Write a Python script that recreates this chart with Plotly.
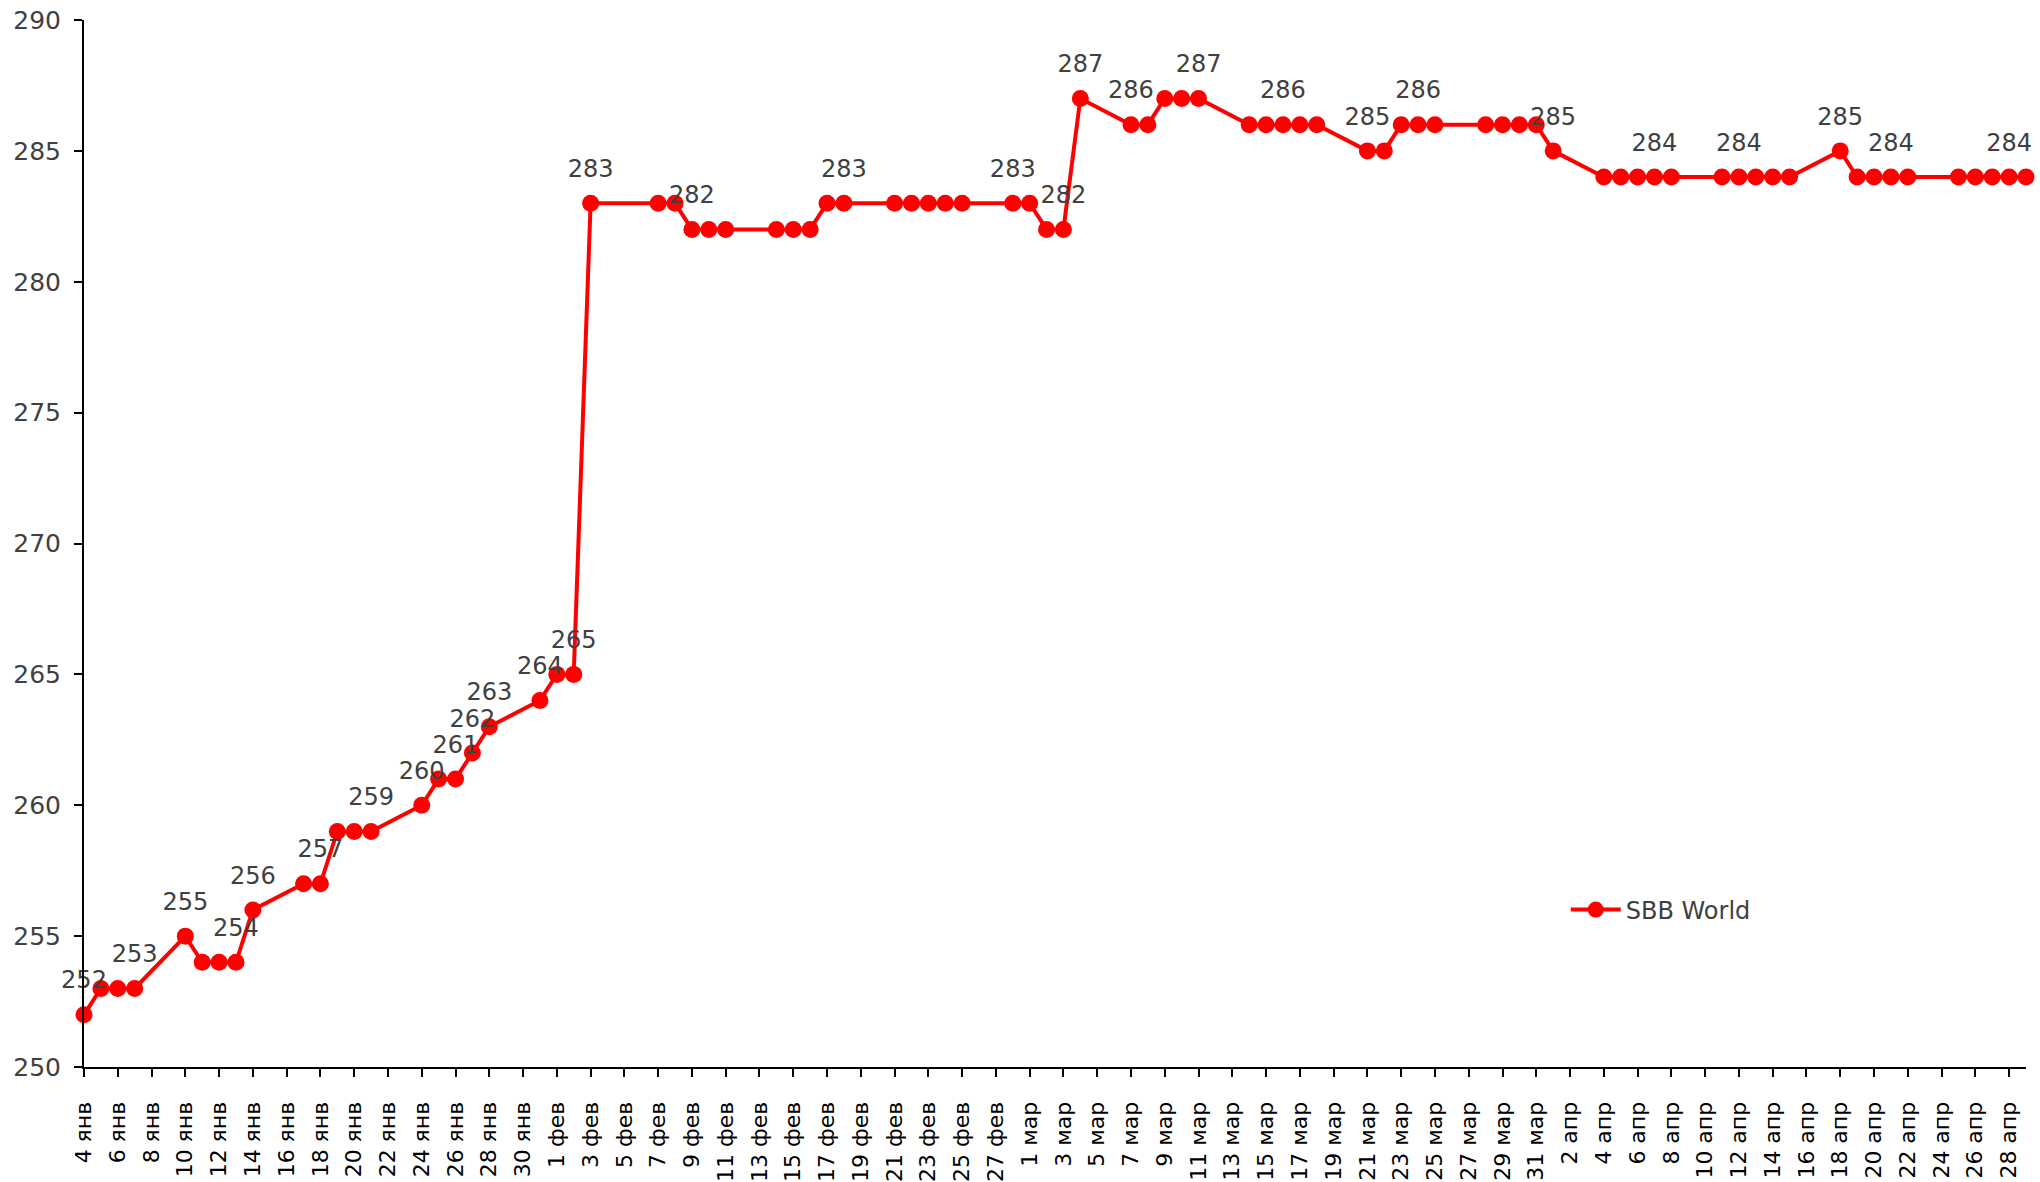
import plotly.graph_objects as go

# ---- data ----
dates = [
    "2022-01-04", "2022-01-05", "2022-01-06", "2022-01-07",
    "2022-01-10", "2022-01-11", "2022-01-12", "2022-01-13", "2022-01-14",
    "2022-01-17", "2022-01-18", "2022-01-19", "2022-01-20", "2022-01-21",
    "2022-01-24", "2022-01-25", "2022-01-26", "2022-01-27", "2022-01-28",
    "2022-01-31", "2022-02-01", "2022-02-02", "2022-02-03",
    "2022-02-07", "2022-02-08", "2022-02-09", "2022-02-10", "2022-02-11",
    "2022-02-14", "2022-02-15", "2022-02-16", "2022-02-17", "2022-02-18",
    "2022-02-21", "2022-02-22", "2022-02-23", "2022-02-24", "2022-02-25",
    "2022-02-28", "2022-03-01", "2022-03-02", "2022-03-03", "2022-03-04",
    "2022-03-07", "2022-03-08", "2022-03-09", "2022-03-10", "2022-03-11",
    "2022-03-14", "2022-03-15", "2022-03-16", "2022-03-17", "2022-03-18",
    "2022-03-21", "2022-03-22", "2022-03-23", "2022-03-24", "2022-03-25",
    "2022-03-28", "2022-03-29", "2022-03-30", "2022-03-31", "2022-04-01",
    "2022-04-04", "2022-04-05", "2022-04-06", "2022-04-07", "2022-04-08",
    "2022-04-11", "2022-04-12", "2022-04-13", "2022-04-14", "2022-04-15",
    "2022-04-18", "2022-04-19", "2022-04-20", "2022-04-21", "2022-04-22",
    "2022-04-25", "2022-04-26", "2022-04-27", "2022-04-28", "2022-04-29",
]

sbb_world = [
    252, 253, 253, 253,
    255, 254, 254, 254, 256,
    257, 257, 259, 259, 259,
    260, 261, 261, 262, 263,
    264, 265, 265, 283,
    283, 283, 282, 282, 282,
    282, 282, 282, 283, 283,
    283, 283, 283, 283, 283,
    283, 283, 282, 282, 287,
    286, 286, 287, 287, 287,
    286, 286, 286, 286, 286,
    285, 285, 286, 286, 286,
    286, 286, 286, 286, 285,
    284, 284, 284, 284, 284,
    284, 284, 284, 284, 284,
    285, 284, 284, 284, 284,
    284, 284, 284, 284, 284,
]

# dates whose value is printed above the point
label_dates = [
    "2022-01-04", "2022-01-07", "2022-01-10", "2022-01-13", "2022-01-14",
    "2022-01-18", "2022-01-21", "2022-01-24", "2022-01-26", "2022-01-27",
    "2022-01-28", "2022-01-31", "2022-02-02", "2022-02-03", "2022-02-09",
    "2022-02-18", "2022-02-28", "2022-03-03", "2022-03-04", "2022-03-07",
    "2022-03-11", "2022-03-16", "2022-03-21", "2022-03-24", "2022-04-01",
    "2022-04-07", "2022-04-12", "2022-04-18", "2022-04-21", "2022-04-28",
]

tick_dates = [
    "2022-01-04", "2022-01-06", "2022-01-08", "2022-01-10", "2022-01-12",
    "2022-01-14", "2022-01-16", "2022-01-18", "2022-01-20", "2022-01-22",
    "2022-01-24", "2022-01-26", "2022-01-28", "2022-01-30",
    "2022-02-01", "2022-02-03", "2022-02-05", "2022-02-07", "2022-02-09",
    "2022-02-11", "2022-02-13", "2022-02-15", "2022-02-17", "2022-02-19",
    "2022-02-21", "2022-02-23", "2022-02-25", "2022-02-27",
    "2022-03-01", "2022-03-03", "2022-03-05", "2022-03-07", "2022-03-09",
    "2022-03-11", "2022-03-13", "2022-03-15", "2022-03-17", "2022-03-19",
    "2022-03-21", "2022-03-23", "2022-03-25", "2022-03-27", "2022-03-29",
    "2022-03-31",
    "2022-04-02", "2022-04-04", "2022-04-06", "2022-04-08", "2022-04-10",
    "2022-04-12", "2022-04-14", "2022-04-16", "2022-04-18", "2022-04-20",
    "2022-04-22", "2022-04-24", "2022-04-26", "2022-04-28",
]

tick_labels = [
    "4 янв", "6 янв", "8 янв", "10 янв", "12 янв",
    "14 янв", "16 янв", "18 янв", "20 янв", "22 янв",
    "24 янв", "26 янв", "28 янв", "30 янв",
    "1 фев", "3 фев", "5 фев", "7 фев", "9 фев",
    "11 фев", "13 фев", "15 фев", "17 фев", "19 фев",
    "21 фев", "23 фев", "25 фев", "27 фев",
    "1 мар", "3 мар", "5 мар", "7 мар", "9 мар",
    "11 мар", "13 мар", "15 мар", "17 мар", "19 мар",
    "21 мар", "23 мар", "25 мар", "27 мар", "29 мар",
    "31 мар",
    "2 апр", "4 апр", "6 апр", "8 апр", "10 апр",
    "12 апр", "14 апр", "16 апр", "18 апр", "20 апр",
    "22 апр", "24 апр", "26 апр", "28 апр",
]

y_ticks = [250, 255, 260, 265, 270, 275, 280, 285, 290]

point_text = [str(v) if d in label_dates else "" for d, v in zip(dates, sbb_world)]

LABEL_FONT = "DejaVu Sans"
RED = "#FF0000"

fig = go.Figure()
fig.add_trace(go.Scatter(
    x=dates,
    y=sbb_world,
    name="SBB World",
    mode="lines+markers",
    line=dict(color=RED, width=4),
    marker=dict(color=RED, size=17),
    cliponaxis=False,
))
# value labels (offset above the points by a transparent, larger marker)
fig.add_trace(go.Scatter(
    x=dates,
    y=sbb_world,
    mode="markers+text",
    marker=dict(color="rgba(0,0,0,0)", size=31),
    text=point_text,
    textposition="top center",
    textfont=dict(family=LABEL_FONT, size=24, color="#404040"),
    showlegend=False,
    hoverinfo="skip",
    cliponaxis=False,
))

fig.update_layout(
    width=2040,
    height=1182,
    margin=dict(l=84, r=14, t=20, b=115, autoexpand=False),
    paper_bgcolor="white",
    plot_bgcolor="white",
    showlegend=True,
    legend=dict(
        x=0.763, y=0.15, xanchor="left", yanchor="middle",
        font=dict(family=LABEL_FONT, size=24, color="#404040"),
        bgcolor="rgba(0,0,0,0)",
        itemwidth=50,
    ),
    xaxis=dict(
        type="date",
        range=["2022-01-04", "2022-04-29"],
        tickmode="array",
        tickvals=tick_dates,
        ticktext=tick_labels,
        tickangle=-90,
        tickfont=dict(family="DejaVu Sans", size=22, color="black"),
        showline=True, linecolor="black", linewidth=2,
        ticks="outside", ticklen=8, tickwidth=2, tickcolor="black",
        showgrid=False, zeroline=False,
        ticklabelstandoff=16,
        automargin=False,
        ticklabeloverflow="allow",
    ),
    yaxis=dict(
        range=[250, 290],
        tickmode="array",
        tickvals=y_ticks,
        ticktext=[str(v) for v in y_ticks],
        tickfont=dict(family=LABEL_FONT, size=25, color="#404040"),
        showline=True, linecolor="black", linewidth=2,
        ticks="outside", ticklen=8, tickwidth=2, tickcolor="black",
        showgrid=False, zeroline=False,
        ticklabelstandoff=8,
        automargin=False,
        ticklabeloverflow="allow",
    ),
)

fig.write_html(
    "out.html",
    config={"displayModeBar": False},
    post_script="document.body.style.margin='0px';document.body.style.overflow='hidden';",
)
